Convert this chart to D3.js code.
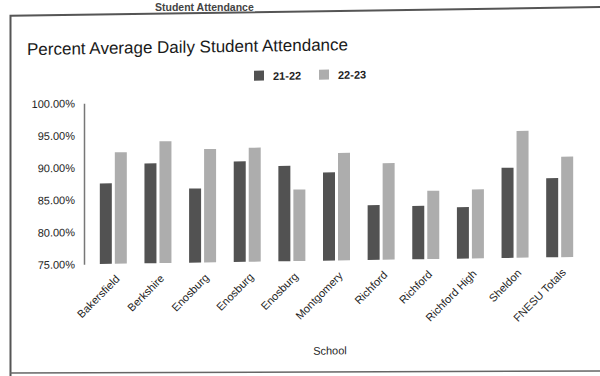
<!DOCTYPE html>
<html>
<head>
<meta charset="utf-8">
<script src="https://cdn.jsdelivr.net/npm/d3@7"></script>
<style>
  html, body { margin: 0; padding: 0; background: #fff; }
  svg { display: block; font-family: "Liberation Sans", Arial, sans-serif; }
</style>
</head>
<body>
<svg id="chart" width="600" height="376"></svg>
<script>
// Schools (x categories) and attendance per school year, in percent
const schools = ["Bakersfield", "Berkshire", "Enosburg", "Enosburg", "Enosburg", "Montgomery",
                 "Richford", "Richford", "Richford High", "Sheldon", "FNESU Totals"];
const years = ["21-22", "22-23"];
const att2122 = [87.5, 90.5, 86.5, 90.6, 89.8, 88.7, 83.5, 83.3, 83.0, 89.0, 87.3];
const att2223 = [92.3, 93.9, 92.6, 92.7, 86.1, 91.7, 90.0, 85.6, 85.7, 94.7, 90.6];
const yTicks = [75, 80, 85, 90, 95, 100];
const colors = ["#525252", "#adadad"];

const svg = d3.select("#chart");
// the printed page sits slightly tilted
const page = svg.append("g").attr("transform", "translate(300,0) skewY(-0.85) translate(-300,0)");

// page heading above the chart frame
svg.append("text")
  .attr("x", 155).attr("y", 10.5)
  .attr("font-size", 10.5).attr("font-weight", "bold").attr("fill", "#444")
  .text("Student Attendance");

// chart frame
page.append("path")
  .attr("d", "M10.5,373 L10.5,11.5 L600,11.5")
  .attr("fill", "none").attr("stroke", "#555").attr("stroke-width", 2);
svg.append("line")
  .attr("x1", 10).attr("x2", 600).attr("y1", 373).attr("y2", 371)
  .attr("stroke", "#666").attr("stroke-width", 1.5);

// title
page.append("text")
  .attr("x", 27).attr("y", 51)
  .attr("font-size", 17).attr("fill", "#1a1a1a")
  .text("Percent Average Daily Student Attendance");

// legend
const legend = page.append("g");
const legendX = [254, 319];
years.forEach((yr, i) => {
  legend.append("rect")
    .attr("x", legendX[i]).attr("y", 70).attr("width", 10).attr("height", 10)
    .attr("fill", colors[i]);
  legend.append("text")
    .attr("x", legendX[i] + 19).attr("y", 79.5)
    .attr("font-size", 11).attr("font-weight", "bold").attr("fill", "#222")
    .text(yr);
});

// scales
const x = d3.scaleBand().domain(d3.range(schools.length)).range([91, 582]);
const y = d3.scaleLinear().domain([75, 100]).range([261, 100]);
const x1 = d3.scaleBand().domain(years).range([-13.5, 13.5]).paddingInner(0.2);

// bars
const series = [att2122, att2223];
const groups = page.append("g").selectAll("g")
  .data(d3.range(schools.length))
  .join("g")
  .attr("transform", i => `translate(${x(i) + x.bandwidth() / 2},0)`);
groups.selectAll("rect")
  .data(i => years.map((yr, k) => ({ yr, v: series[k][i], k })))
  .join("rect")
  .attr("x", d => x1(d.yr))
  .attr("width", x1.bandwidth())
  .attr("y", d => y(d.v))
  .attr("height", d => y(75) - y(d.v))
  .attr("fill", d => colors[d.k]);

// y axis
const yAxis = page.append("g")
  .attr("transform", "translate(84,0)")
  .call(d3.axisLeft(y).tickValues(yTicks).tickSize(0).tickPadding(9)
    .tickFormat(d => d3.format(".2f")(d) + "%"));
yAxis.select(".domain").attr("stroke", "#777").attr("stroke-width", 1.5);
yAxis.selectAll("text").attr("font-size", 11).attr("fill", "#1e1e1e")
  .attr("font-family", "Liberation Sans, Arial, sans-serif");

// x axis labels
const xAxis = page.append("g")
  .attr("transform", `translate(0,${y(75)})`)
  .call(d3.axisBottom(x).tickSize(0).tickFormat(i => schools[i]));
xAxis.select(".domain").remove();
xAxis.selectAll("text")
  .attr("x", 0).attr("y", 0).attr("dy", 0)
  .attr("text-anchor", "end")
  .attr("transform", "translate(7,16) rotate(-45)")
  .attr("font-size", 11).attr("fill", "#1e1e1e")
  .attr("font-family", "Liberation Sans, Arial, sans-serif");

// x axis title
page.append("text")
  .attr("x", 330).attr("y", 355)
  .attr("text-anchor", "middle")
  .attr("font-size", 11).attr("fill", "#1e1e1e")
  .text("School");
</script>
</body>
</html>
